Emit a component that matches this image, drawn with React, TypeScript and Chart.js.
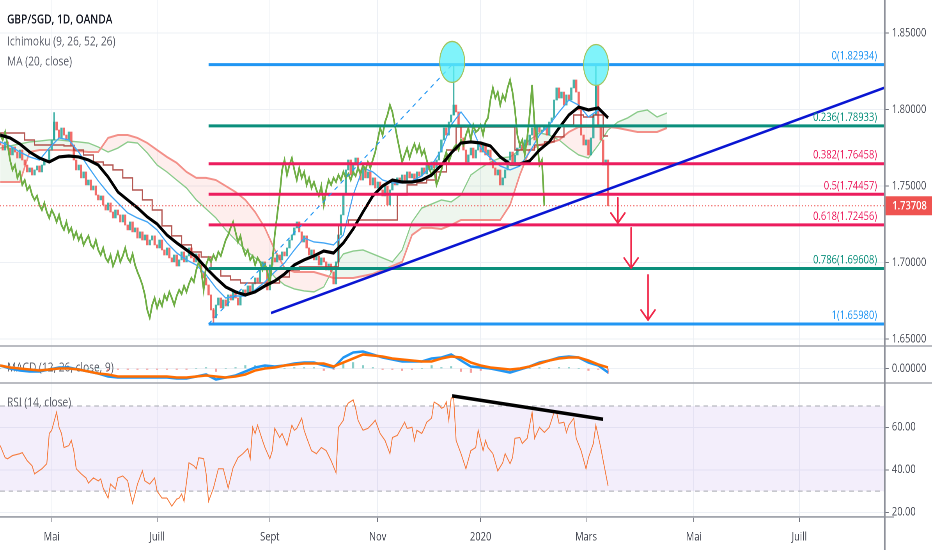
import React, { useEffect, useRef } from 'react';
import { Chart, registerables } from 'chart.js';

Chart.register(...registerables);

const FONT = "'Open Sans', 'Noto Sans', 'DejaVu Sans', sans-serif";
const CSS_W = 932;
const CSS_H = 550;
const LOGICAL_W = 1195; // the reference screenshot is horizontally compressed
const SX = LOGICAL_W / CSS_W;
const AXIS_W = 48 * SX;
const XAXIS_H = 33;
const PRICE_PANE_H = 346;
const MACD_PANE_H = 37;
const RSI_PANE_H = 134;

// ---------------- axes ----------------
const X_MIN = -21.09;
const X_MAX = 339.58;
const PRICE_MIN = 1.64542;
const PRICE_MAX = 1.87157;
const MACD_MIN = -0.0145;
const MACD_MAX = 0.0225;
const RSI_MIN = 17.8;
const RSI_MAX = 80.85;
const MONTH_BARS = [0, 43, 89, 133, 175, 218, 262, 305];
const MONTH_LABELS = ['Mai', 'Juill', 'Sept', 'Nov', '2020', 'Mars', 'Mai', 'Juill'];
const PRICE_TICKS = [1.65, 1.7, 1.75, 1.8, 1.85];
const MACD_TICKS = [0];
const RSI_TICKS = [20, 40, 60];
const RSI_BAND = [30, 70];

// ---------------- price (daily bars, bar index 0 = 1 May 2019) ----------------
const FIRST_BAR = -21;
const FIRST_OPEN = 1.779;
const closes = [
  1.7768, 1.7735, 1.7788, 1.7748, 1.7703, 1.7755, 1.7722, 1.7683, 1.7735, 1.767,
  1.7637, 1.7592, 1.7618, 1.7572, 1.7605, 1.7631, 1.7592, 1.7637, 1.767, 1.7657,
  1.7735, 1.7801, 1.7918, 1.7866, 1.7814, 1.7879, 1.7833, 1.7801, 1.7853, 1.7768,
  1.767, 1.7605, 1.7637, 1.7553, 1.7592, 1.7507, 1.7539, 1.7474, 1.75, 1.7441,
  1.7409, 1.7435, 1.7376, 1.7343, 1.7389, 1.733, 1.7291, 1.7343, 1.7311, 1.7265,
  1.7311, 1.7245, 1.7213, 1.7265, 1.72, 1.7226, 1.716, 1.72, 1.7147, 1.718,
  1.7115, 1.7147, 1.7174, 1.7115, 1.7095, 1.7147, 1.7082, 1.7049, 1.7095, 1.703,
  1.7004, 1.7049, 1.6977, 1.7017, 1.7069, 1.7004, 1.7043, 1.7095, 1.703, 1.7004,
  1.7056, 1.6984, 1.6938, 1.6899, 1.6853, 1.6788, 1.669, 1.6638, 1.6722, 1.6768,
  1.6703, 1.6755, 1.6716, 1.6788, 1.6755, 1.6808, 1.6768, 1.6722, 1.6781, 1.6821,
  1.6794, 1.6847, 1.6808, 1.686, 1.6899, 1.6873, 1.6951, 1.7004, 1.6951, 1.6821,
  1.6984, 1.703, 1.7004, 1.7049, 1.7017, 1.7069, 1.7043, 1.7095, 1.7147, 1.718,
  1.7226, 1.7265, 1.72, 1.7134, 1.7174, 1.7095, 1.7049, 1.7082, 1.7017, 1.7043,
  1.6984, 1.703, 1.7004, 1.6951, 1.699, 1.6938, 1.686, 1.7004, 1.718, 1.7311,
  1.7441, 1.7605, 1.767, 1.7572, 1.7637, 1.7683, 1.7605, 1.7539, 1.7618, 1.7553,
  1.7592, 1.7507, 1.7553, 1.7487, 1.7526, 1.7474, 1.7435, 1.75, 1.7376, 1.7474,
  1.7539, 1.7507, 1.7553, 1.7526, 1.7572, 1.7539, 1.7592, 1.7553, 1.7579, 1.7539,
  1.7592, 1.7566, 1.7618, 1.7579, 1.7637, 1.7605, 1.7657, 1.7618, 1.767, 1.7722,
  1.7801, 1.7879, 1.7833, 1.7918, 1.7964, 1.8029, 1.7984, 1.7899, 1.7814, 1.7735,
  1.7657, 1.7703, 1.7748, 1.7683, 1.7735, 1.7775, 1.7722, 1.7768, 1.7703, 1.7735,
  1.767, 1.7618, 1.7572, 1.7605, 1.7507, 1.7553, 1.7605, 1.767, 1.7722, 1.7657,
  1.7703, 1.7748, 1.7768, 1.7735, 1.7801, 1.7768, 1.7833, 1.7879, 1.7801, 1.7899,
  1.7853, 1.7866, 1.7899, 1.7833, 1.7918, 1.7945, 1.8062, 1.8141, 1.8075, 1.8114,
  1.8029, 1.8095, 1.8062, 1.8141, 1.8193, 1.8114, 1.7997, 1.7833, 1.7768, 1.7801,
  1.7703, 1.7814, 1.7964, 1.816, 1.7899, 1.7801, 1.7637, 1.767, 1.73708,
];
const WICK_BARS = [1, 66, 164, 222];
const WICK_HIGHS = [1.798, 1.67, 1.82934, 1.829];
const WICK_LOWS = [1.7801, 1.6598, 1.7964, 1.7964];
const LAST_PRICE = 1.73708;

// ---------------- indicators ----------------
const IND_BARS = [
  -21, -17, -13, -9, -5, -1, 3, 7, 11, 15, 19, 23, 27, 31, 35, 39, 43, 47, 51, 55, 59,
  63, 67, 71, 75, 79, 83, 87, 91, 95, 99, 103, 107, 111, 115, 119, 123, 127, 131, 135, 139,
  143, 147, 151, 155, 159, 163, 167, 171, 175, 179, 183, 187, 191, 195, 199, 203, 207, 211, 215, 219,
  223, 227,
];
const ma20 = [
  1.7833, 1.7814, 1.7775, 1.7722, 1.7683, 1.7657, 1.769, 1.7696, 1.769, 1.767,
  1.7637, 1.7559, 1.7461, 1.7409, 1.7357, 1.7298, 1.7252, 1.718, 1.7128, 1.7082,
  1.7036, 1.6964, 1.6899, 1.684, 1.6808, 1.6788, 1.6808, 1.6847, 1.6879, 1.6925,
  1.6984, 1.7017, 1.7043, 1.7075, 1.7062, 1.7128, 1.7219, 1.733, 1.7435, 1.75,
  1.7539, 1.7526, 1.7526, 1.7539, 1.7572, 1.7637, 1.7716, 1.7781, 1.7788, 1.7781,
  1.7762, 1.769, 1.7644, 1.7644, 1.7664, 1.7735, 1.7788, 1.7879, 1.7964, 1.8016,
  1.7997, 1.801, 1.7945,
];
const tenkan = [
  1.7788, 1.7762, 1.7722, 1.769, 1.767, 1.7748, 1.7814, 1.7801, 1.7722, 1.7624,
  1.7533, 1.7454, 1.7389, 1.7324, 1.7291, 1.7265, 1.7213, 1.7128, 1.7063, 1.7017,
  1.6984, 1.6919, 1.6834, 1.6768, 1.6781, 1.6781, 1.6821, 1.6873, 1.6938, 1.6997,
  1.7082, 1.716, 1.7134, 1.7128, 1.7115, 1.718, 1.7441, 1.7618, 1.7592, 1.7539,
  1.752, 1.752, 1.7533, 1.7566, 1.7637, 1.7735, 1.7899, 1.7984, 1.7899, 1.7748,
  1.7683, 1.7631, 1.7605, 1.7631, 1.7722, 1.7833, 1.7899, 1.7984, 1.8062, 1.8029,
  1.7951, 1.7997, 1.7945,
];
const kijun = [
  1.7846, 1.7846, 1.7846, 1.7801, 1.7768, 1.7768, 1.7768, 1.7762, 1.7735, 1.7703,
  1.7657, 1.7637, 1.7605, 1.7553, 1.7474, 1.7409, 1.7343, 1.7239, 1.7174, 1.7115,
  1.7069, 1.7036, 1.6964, 1.6912, 1.6886, 1.6866, 1.6866, 1.6866, 1.6866, 1.6905,
  1.6951, 1.6971, 1.6971, 1.6971, 1.6971, 1.7245, 1.7278, 1.7278, 1.7278, 1.7278,
  1.7278, 1.7441, 1.7507, 1.752, 1.7539, 1.7592, 1.7735, 1.7886, 1.7886, 1.7886,
  1.7886, 1.7886, 1.7886, 1.7735, 1.7735, 1.7768, 1.7788, 1.7821, 1.7899, 1.7964,
  1.7951, 1.7964, 1.7827,
];
const SPAN_BARS = [...IND_BARS, 231, 235, 239, 243, 247, 251];
const spanA = [
  1.7748, 1.7762, 1.7775, 1.7788, 1.7794, 1.7801, 1.7801, 1.7794, 1.7788, 1.7781,
  1.7755, 1.7722, 1.7748, 1.7788, 1.7781, 1.7716, 1.7637, 1.7592, 1.7539, 1.7487,
  1.7409, 1.735, 1.7291, 1.7213, 1.7147, 1.7082, 1.703, 1.6984, 1.6905, 1.6853,
  1.6827, 1.6814, 1.6808, 1.684, 1.6964, 1.7056, 1.7075, 1.7082, 1.7056, 1.703,
  1.7004, 1.7082, 1.7265, 1.7356, 1.7382, 1.7409, 1.7396, 1.7441, 1.7572, 1.7618,
  1.7657, 1.7683, 1.769, 1.7735, 1.7801, 1.7847, 1.7833, 1.7801, 1.7748, 1.7703,
  1.7683, 1.7768, 1.7866, 1.7918, 1.7945, 1.7984, 1.7997, 1.7951, 1.7977,
];
const spanB = [
  1.7526, 1.7526, 1.7526, 1.7722, 1.7735, 1.7735, 1.7735, 1.7735, 1.7729, 1.7722,
  1.7722, 1.7814, 1.7833, 1.7833, 1.7814, 1.7781, 1.7735, 1.769, 1.7651, 1.7592,
  1.7553, 1.7553, 1.7539, 1.75, 1.7461, 1.7409, 1.733, 1.7226, 1.7082, 1.6964,
  1.6938, 1.6938, 1.6938, 1.6919, 1.6899, 1.6899, 1.6899, 1.6912, 1.6925, 1.6951,
  1.6977, 1.7004, 1.718, 1.7226, 1.7226, 1.7219, 1.7245, 1.7278, 1.7278, 1.7278,
  1.7278, 1.7278, 1.7376, 1.7572, 1.7735, 1.7768, 1.7781, 1.7801, 1.7853, 1.7886,
  1.7886, 1.7886, 1.7886, 1.7879, 1.7866, 1.7853, 1.7853, 1.7853, 1.7879,
];
const CHIKOU_SHIFT = 26;

const macdLine = [
  0.003, 0.0, -0.002, -0.003, -0.003, -0.001, 0.001, 0.001, -0.001, -0.003,
  -0.005, -0.008, -0.009, -0.009, -0.009, -0.009, -0.009, -0.009, -0.01, -0.01,
  -0.008, -0.006, -0.011, -0.009, -0.007, -0.003, 0.001, 0.003, 0.002, 0.003,
  0.005, 0.006, 0.006, 0.003, 0.001, 0.011, 0.016, 0.017, 0.014, 0.011,
  0.009, 0.007, 0.007, 0.007, 0.01, 0.011, 0.014, 0.008, 0.002, 0.001,
  0.0, -0.002, -0.004, -0.001, 0.002, 0.006, 0.008, 0.011, 0.012, 0.011,
  0.006, 0.003, -0.004,
];
const macdSignal = [
  0.003, 0.001, 0.0, -0.001, -0.002, -0.001, 0.0, 0.0, -0.001, -0.003,
  -0.005, -0.006, -0.008, -0.008, -0.008, -0.008, -0.008, -0.008, -0.009, -0.009,
  -0.008, -0.007, -0.008, -0.009, -0.008, -0.006, -0.002, 0.0, 0.001, 0.003,
  0.004, 0.005, 0.005, 0.005, 0.002, 0.006, 0.01, 0.014, 0.013, 0.012,
  0.01, 0.009, 0.008, 0.007, 0.007, 0.01, 0.012, 0.011, 0.006, 0.003,
  0.001, 0.0, -0.001, 0.0, 0.002, 0.005, 0.008, 0.01, 0.011, 0.011,
  0.008, 0.004, 0.001,
];

const rsiBars = [
  -21, -19, -18, -16, -13, -12, -10, -8, -7, -4, -2, -1, 0, 2, 3, 4, 5, 7, 8, 9,
  10, 12, 14, 15, 17, 19, 20, 21, 23, 24, 26, 27, 29, 31, 32, 33, 35, 37, 38, 40,
  42, 43, 45, 47, 49, 51, 52, 53, 54, 56, 58, 59, 60, 62, 63, 64, 66, 68, 70, 72,
  74, 76, 78, 80, 81, 82, 83, 84, 86, 87, 89, 90, 91, 93, 94, 96, 98, 99, 100, 102,
  103, 104, 106, 108, 110, 112, 114, 116, 117, 119, 120, 121, 123, 124, 125, 127, 129, 131, 132, 134,
  136, 138, 139, 141, 144, 145, 147, 148, 149, 151, 152, 153, 155, 156, 158, 159, 160, 161, 162, 163,
  164, 165, 167, 169, 171, 173, 174, 176, 177, 178, 180, 182, 184, 185, 187, 188, 189, 191, 192, 194,
  196, 197, 199, 201, 203, 205, 206, 207, 209, 210, 211, 213, 214, 216, 218, 219, 221, 222, 224, 225,
  227,
];
const rsiValues = [
  51.4, 45.7, 45.2, 46.7, 47.6, 48.1, 44.3, 41.9, 38.1, 40.5, 42.9, 57.1, 58.6, 67.1, 60, 57.1, 50.5, 51.4, 53.8, 49,
  40.5, 38.1, 36.2, 33.8, 36.2, 34.8, 35.7, 31.4, 26.7, 33.3, 31, 36.2, 37.1, 34.8, 29, 24.3, 33.3, 39.5, 34.8, 33.3,
  36.2, 30, 26.7, 26.7, 22.9, 26.2, 26.7, 28.6, 25.2, 43.3, 41.9, 40.5, 45.7, 45.2, 38.1, 25.2, 31.4, 40.5, 40.5, 31.4,
  41, 45.7, 47.6, 50, 45.2, 60, 57.1, 61, 53.8, 50.5, 45.2, 49, 59.5, 55.2, 57.1, 51.4, 61, 58.6, 59.5, 64.3,
  58.6, 55.2, 49, 47.6, 50.5, 49, 44.3, 38.6, 60, 63.3, 69.5, 71.4, 72.9, 69, 63.3, 58.6, 59.5, 61.9, 63.3, 57.1,
  53.8, 47.6, 55.2, 56.2, 62.4, 59.5, 60, 53.8, 58.6, 57.1, 59.5, 62.4, 64.3, 71.9, 70.5, 69, 69.5, 71.9, 63.3, 73.8,
  73.8, 53.8, 47.6, 40.5, 49, 50.5, 58.6, 49, 53.8, 50.5, 47.6, 39.5, 43.3, 47.6, 42.9, 45.7, 54.8, 55.2, 52.4, 54.8,
  67.1, 54.8, 60, 57.6, 60, 67.1, 67.1, 61.9, 62.4, 57.6, 61, 64.3, 54.8, 49, 40.5, 45.7, 52.4, 61, 50.5, 44.3,
  32.4,
];

// ---------------- drawings ----------------
const FIB_RATIOS = ['0', '0.236', '0.382', '0.5', '0.618', '0.786', '1'];
const FIB_PRICES = [1.82934, 1.78933, 1.76458, 1.74457, 1.72456, 1.69608, 1.6598];
const FIB_COLORS = ['#2196f3', '#0b8f7c', '#ec1d5e', '#ec1d5e', '#ec1d5e', '#0b8f7c', '#2196f3'];
const FIB_START_BAR = 64;
const FIB_DIAG_BARS = [64, 163.4];
const FIB_DIAG_PRICES = [1.6598, 1.82934];
const TREND_BARS = [89.5, 339.6];
const TREND_PRICES = [1.667, 1.8141];
const RSI_TREND_BARS = [163.4, 225.0];
const RSI_TREND_VALUES = [74.8, 63.8];
const ELLIPSE_BARS = [163.4, 222.1];
const ELLIPSE_PRICES = [1.8311, 1.8291];
const ARROW_BARS = [231.0, 236.4, 243.3];
const ARROW_FROM = [1.7422, 1.7226, 1.6918];
const ARROW_TO = [1.7258, 1.6964, 1.6624];

const UP = 'rgba(38,166,154,0.85)';
const DOWN = 'rgba(239,83,80,0.85)';

const overlayPlugin = {
  id: 'tvOverlay',
  beforeDatasetsDraw(chart: any) {
    const { ctx, chartArea: ca, scales } = chart;
    const yR = scales.yRsi;
    const yM = scales.yMacd;
    ctx.save();
    const t = yR.getPixelForValue(RSI_BAND[1]);
    const b = yR.getPixelForValue(RSI_BAND[0]);
    ctx.fillStyle = 'rgba(150,100,220,0.11)';
    ctx.fillRect(ca.left, t, ca.right - ca.left, b - t);
    ctx.strokeStyle = '#a7a9b1';
    ctx.lineWidth = 1;
    ctx.setLineDash([6, 5]);
    [t, b].forEach((yy) => {
      ctx.beginPath();
      ctx.moveTo(ca.left, yy);
      ctx.lineTo(ca.right, yy);
      ctx.stroke();
    });
    ctx.setLineDash([]);
    ctx.font = `13px ${FONT}`;
    ctx.fillStyle = '#5d606b';
    ctx.textAlign = 'left';
    ctx.textBaseline = 'middle';
    ctx.fillText('MACD (12, 26, close, 9)', 9, yM.top + 22);
    ctx.fillText('RSI (14, close)', 9, yR.top + 20);
    ctx.restore();
  },
  afterDatasetsDraw(chart: any) {
    const { ctx, chartArea: ca, scales } = chart;
    const x = scales.x;
    const y = scales.y;
    ctx.save();
    // highlight ellipses
    ELLIPSE_BARS.forEach((bar, k) => {
      const cx = x.getPixelForValue(bar);
      const cy = y.getPixelForValue(ELLIPSE_PRICES[k]);
      ctx.beginPath();
      ctx.ellipse(cx, cy, 12.5 * SX, 20.5, 0, 0, Math.PI * 2);
      ctx.fillStyle = 'rgba(92,240,248,0.78)';
      ctx.fill();
      ctx.lineWidth = 1.3;
      ctx.strokeStyle = '#a2c45e';
      ctx.stroke();
    });
    // arrows
    ctx.strokeStyle = '#f0284a';
    ctx.lineWidth = 2;
    ctx.lineCap = 'round';
    ARROW_BARS.forEach((bar, k) => {
      const ax = x.getPixelForValue(bar);
      const y0 = y.getPixelForValue(ARROW_FROM[k]);
      const y1 = y.getPixelForValue(ARROW_TO[k]);
      ctx.beginPath();
      ctx.moveTo(ax, y0);
      ctx.lineTo(ax, y1);
      ctx.moveTo(ax - 7 * SX, y1 - 10);
      ctx.lineTo(ax, y1);
      ctx.lineTo(ax + 7 * SX, y1 - 10);
      ctx.stroke();
    });
    // fib labels
    ctx.font = `12px ${FONT}`;
    ctx.textAlign = 'right';
    ctx.textBaseline = 'alphabetic';
    FIB_PRICES.forEach((p, k) => {
      const yy = y.getPixelForValue(p);
      ctx.fillStyle = FIB_COLORS[k];
      ctx.fillText(`${FIB_RATIOS[k]}(${p.toFixed(5)})`, ca.right - 7 * SX, yy - 5);
    });
    ctx.restore();
  },
  afterDraw(chart: any) {
    const { ctx, chartArea: ca, scales, width, height } = chart;
    ctx.save();
    ctx.strokeStyle = '#a3a6ae';
    ctx.lineWidth = 1.6;
    [scales.yMacd.top, scales.yRsi.top].forEach((yy) => {
      ctx.beginPath();
      ctx.moveTo(0, yy);
      ctx.lineTo(width, yy);
      ctx.stroke();
    });
    ctx.beginPath();
    ctx.moveTo(0, ca.bottom);
    ctx.lineTo(ca.right + 10 * SX, ca.bottom);
    ctx.stroke();
    ctx.strokeStyle = '#8e919a';
    ctx.lineWidth = 2;
    ctx.beginPath();
    ctx.moveTo(ca.right + 1, 0);
    ctx.lineTo(ca.right + 1, height);
    ctx.stroke();
    // last price box
    const py = scales.y.getPixelForValue(LAST_PRICE);
    ctx.fillStyle = '#ef5350';
    ctx.fillRect(ca.right + 2, py - 9.5, width - ca.right - 2, 19);
    ctx.fillStyle = '#ffffff';
    ctx.font = `600 12px ${FONT}`;
    ctx.textAlign = 'left';
    ctx.textBaseline = 'middle';
    ctx.fillText(LAST_PRICE.toFixed(5), ca.right + 10.5, py + 0.5);
    // legend
    ctx.font = `600 13px ${FONT}`;
    ctx.fillStyle = '#131722';
    ctx.fillText('GBP/SGD, 1D, OANDA', 9, 20);
    ctx.font = `13px ${FONT}`;
    ctx.fillStyle = '#5d606b';
    ctx.fillText('Ichimoku (9, 26, 52, 26)', 9, 42);
    ctx.fillText('MA (20, close)', 9, 62);
    ctx.restore();
  },
};

function pts(xs: number[], ys: number[]) {
  return xs.map((x, i) => ({ x, y: ys[i] }));
}

function lineDs(label: string, data: any[], color: string, width: number, order: number, extra: any = {}) {
  return {
    type: 'line',
    label,
    data,
    yAxisID: 'y',
    borderColor: color,
    borderWidth: width,
    pointRadius: 0,
    pointHoverRadius: 0,
    tension: 0,
    fill: false,
    order,
    ...extra,
  };
}

function axisY(stackWeight: number, min: number, max: number, ticks: number[], digits: number) {
  return {
    type: 'linear',
    position: 'right',
    stack: 'panes',
    stackWeight,
    min,
    max,
    grid: { color: '#edf0f5', lineWidth: 1, drawTicks: true, tickLength: 6, tickColor: '#70737d' },
    border: { display: false },
    ticks: {
      color: '#4a4d57',
      font: { family: FONT, size: 12 },
      padding: 4,
      callback: (v: any) => Number(v).toFixed(digits),
    },
    afterBuildTicks: (ax: any) => {
      ax.ticks = ticks.map((v) => ({ value: v }));
    },
    afterFit: (ax: any) => {
      ax.width = AXIS_W;
      ax.paddingTop = 0;
      ax.paddingBottom = 0;
    },
  };
}

export default function App() {
  const ref = useRef<HTMLCanvasElement | null>(null);

  useEffect(() => {
    const canvas = ref.current;
    if (!canvas) return;
    Chart.defaults.font.family = FONT;

    const bars = closes.map((_, i) => FIRST_BAR + i);
    const opens = closes.map((_, i) => (i === 0 ? FIRST_OPEN : closes[i - 1]));
    const candleColors = closes.map((c, i) => (c >= opens[i] ? UP : DOWN));
    const wickColors = WICK_BARS.map((b) => candleColors[b - FIRST_BAR]);
    const hist = IND_BARS.map((_, i) => macdLine[i] - macdSignal[i]);

    const datasets: any[] = [
      lineDs('Lead 1', pts(SPAN_BARS, spanA), '#8bcb8b', 1.4, 40, {
        fill: { target: '+1', above: 'rgba(67,160,71,0.09)', below: 'rgba(244,67,54,0.09)' },
      }),
      lineDs('Lead 2', pts(SPAN_BARS, spanB), '#f39089', 2, 39),
      {
        type: 'bar',
        label: 'wicks',
        data: WICK_BARS.map((b, k) => ({ x: b, y: [WICK_LOWS[k], WICK_HIGHS[k]] })),
        yAxisID: 'y',
        backgroundColor: wickColors,
        borderWidth: 0,
        barThickness: 1.3,
        grouped: false,
        order: 38,
      },
      {
        type: 'bar',
        label: 'candles',
        data: bars.map((b, i) => ({ x: b, y: [opens[i], closes[i]] })),
        yAxisID: 'y',
        backgroundColor: candleColors,
        borderWidth: 0,
        barThickness: 2.2,
        minBarLength: 1,
        grouped: false,
        order: 37,
      },
      lineDs('Base Line', pts(IND_BARS, kijun), 'rgba(168,58,52,0.85)', 1.5, 36, { stepped: 'middle' }),
      lineDs('Conversion Line', pts(IND_BARS, tenkan), '#42a5f5', 1.4, 35),
      lineDs(
        'Lagging Span',
        closes.map((c, i) => ({ x: FIRST_BAR + i - CHIKOU_SHIFT, y: c })),
        '#6fae45',
        2.2,
        34
      ),
      lineDs('MA 20', pts(IND_BARS, ma20), '#000000', 3.2, 33),
      lineDs('Last', [{ x: X_MIN, y: LAST_PRICE }, { x: X_MAX, y: LAST_PRICE }], '#ef5350', 1, 32, {
        borderDash: [1.5, 2.5],
      }),
      ...FIB_PRICES.map((p, k) =>
        lineDs(`Fib ${FIB_RATIOS[k]}`, [{ x: FIB_START_BAR, y: p }, { x: X_MAX, y: p }], FIB_COLORS[k], 3, 25 - k)
      ),
      lineDs('Fib diag', pts(FIB_DIAG_BARS, FIB_DIAG_PRICES), '#2196f3', 1.2, 12, { borderDash: [5, 5] }),
      lineDs('Trend', pts(TREND_BARS, TREND_PRICES), '#0a16d2', 2.6, 11),
      {
        type: 'bar',
        label: 'Histogram',
        data: IND_BARS.map((b, i) => ({ x: b, y: hist[i] })),
        yAxisID: 'yMacd',
        backgroundColor: hist.map((h) => (h >= 0 ? 'rgba(38,166,154,0.55)' : 'rgba(239,83,80,0.55)')),
        borderWidth: 0,
        barThickness: 2,
        grouped: false,
        order: 6,
      },
      { ...lineDs('MACD', pts(IND_BARS, macdLine), '#2196f3', 2.6, 5), yAxisID: 'yMacd' },
      { ...lineDs('Signal', pts(IND_BARS, macdSignal), '#ff6d00', 2.6, 4), yAxisID: 'yMacd' },
      { ...lineDs('RSI', pts(rsiBars, rsiValues), '#f57c3f', 1.1, 3), yAxisID: 'yRsi' },
      { ...lineDs('RSI trend', pts(RSI_TREND_BARS, RSI_TREND_VALUES), '#000000', 3.5, 2), yAxisID: 'yRsi' },
    ];

    const chart = new Chart(canvas, {
      type: 'line',
      data: { datasets },
      options: {
        responsive: false,
        animation: false,
        devicePixelRatio: 2,
        events: [],
        layout: { padding: 0 },
        plugins: { legend: { display: false }, tooltip: { enabled: false } },
        scales: {
          x: {
            type: 'linear',
            position: 'bottom',
            min: X_MIN,
            max: X_MAX,
            offset: false,
            grid: { color: '#edf0f5', lineWidth: 1, drawTicks: true, tickLength: 5, tickColor: '#70737d', offset: false },
            border: { display: true, color: '#a3a6ae', width: 1.6 },
            ticks: {
              color: '#434651',
              font: { family: FONT, size: 12 },
              padding: 8,
              autoSkip: false,
              maxRotation: 0,
              callback: (_v: any, i: number) => MONTH_LABELS[i] ?? '',
            },
            afterBuildTicks: (ax: any) => {
              ax.ticks = MONTH_BARS.map((v) => ({ value: v }));
            },
            afterFit: (ax: any) => {
              ax.height = XAXIS_H;
              ax.paddingLeft = 0;
              ax.paddingRight = 0;
            },
          },
          y: axisY(PRICE_PANE_H, PRICE_MIN, PRICE_MAX, PRICE_TICKS, 5),
          yMacd: axisY(MACD_PANE_H, MACD_MIN, MACD_MAX, MACD_TICKS, 5),
          yRsi: axisY(RSI_PANE_H, RSI_MIN, RSI_MAX, RSI_TICKS, 2),
        } as any,
      },
      plugins: [overlayPlugin as any],
    } as any);

    return () => chart.destroy();
  }, []);

  return (
    <div
      style={{
        position: 'absolute',
        left: 0,
        top: 0,
        width: CSS_W,
        height: CSS_H,
        overflow: 'hidden',
        background: '#ffffff',
      }}
    >
      <canvas
        ref={ref}
        width={LOGICAL_W}
        height={CSS_H}
        style={{ width: `${CSS_W}px`, height: `${CSS_H}px`, display: 'block' }}
      />
    </div>
  );
}
